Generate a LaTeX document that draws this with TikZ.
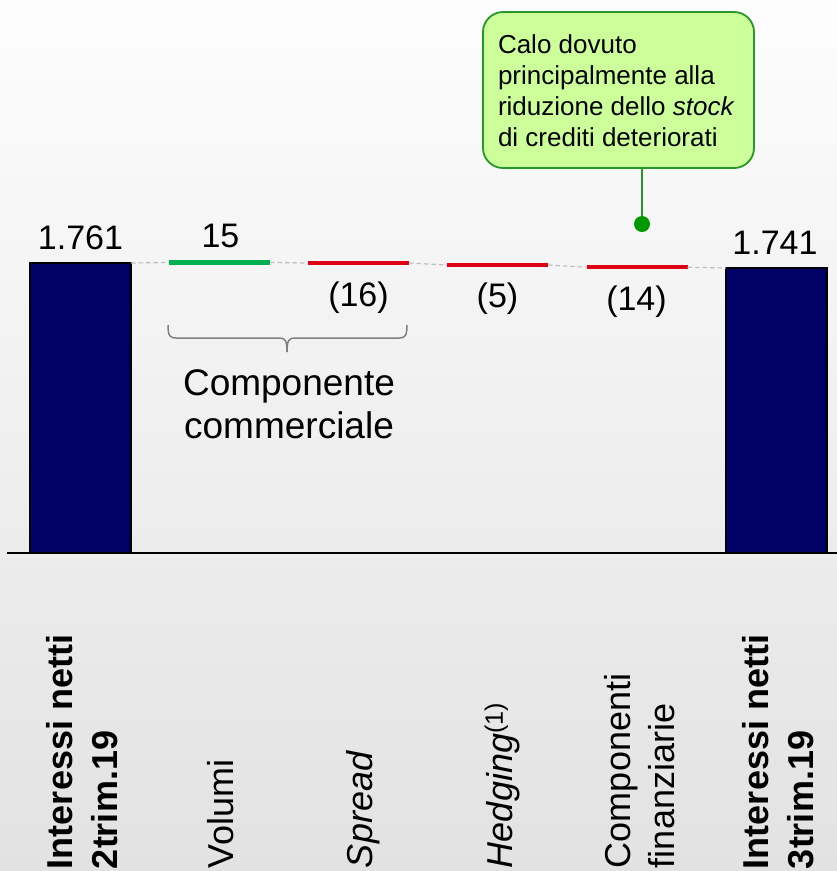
\documentclass[tikz,border=0pt]{standalone}
\usepackage{fontspec}
\setmainfont{Liberation Sans}
\definecolor{navy}{RGB}{0,0,102}
\definecolor{bgTop}{RGB}{253,253,253}
\definecolor{bgBot}{RGB}{226,226,226}
\definecolor{segGreen}{RGB}{0,176,80}
\definecolor{segRed}{RGB}{224,0,20}
\definecolor{dashgray}{RGB}{190,190,190}
\definecolor{calloutFill}{RGB}{204,255,153}
\definecolor{calloutBorder}{RGB}{40,150,40}
\definecolor{dotGreen}{RGB}{0,153,0}
\definecolor{braceGray}{RGB}{128,128,128}
\begin{document}
\begin{tikzpicture}[x=1pt,y=-1pt,
  every node/.style={inner sep=0pt, outer sep=0pt},
  bar/.style={draw=black, line width=1.5pt, fill=navy, minimum width=101pt, anchor=south west},
  seg/.style={minimum width=101pt, minimum height=4.5pt},
  link/.style={draw=dashgray, line width=1.2pt, dash pattern=on 4.5pt off 3pt},
  val/.style={font=\fontsize{34}{40}\selectfont, anchor=base},
  cat/.style={rotate=90, anchor=base west, font=\fontsize{36}{44.5}\selectfont},
  catb/.style={rotate=90, anchor=base west, font=\fontsize{36}{45}\selectfont\bfseries},
  bracestyle/.style={draw=braceGray, line width=1.5pt},
  callout/.style={draw=calloutBorder, line width=1.8pt, fill=calloutFill, rounded corners=20pt}
]
\useasboundingbox (0,0) rectangle (837,871);
\shade[top color=bgTop, bottom color=bgBot] (0,0) rectangle (837,871);

% bars
\node[bar, minimum height=290pt] (b1) at (30,553) {};
\node[bar, minimum height=285pt] (b2) at (726,553) {};

% axis
\coordinate (ax1) at (7,553);
\coordinate (ax2) at (837,553);
\draw[line width=2pt] (ax1) -- (ax2);

% floating segments
\node[seg, fill=segGreen] (vol) at (219.5,262.5) {};
\node[seg, fill=segRed] (spr) at (358.5,263) {};
\node[seg, fill=segRed] (hed) at (497.5,265) {};
\node[seg, fill=segRed] (cfin) at (637,267.2) {};

% dashed links
\draw[link] (b1.north east) -- (vol.west);
\draw[link] (vol.east) -- (spr.west);
\draw[link] (spr.east) -- (hed.west);
\draw[link] (hed.east) -- (cfin.west);
\draw[link] (cfin.east) -- (b2.north west);

% values
\node[val] (v1) at (80.5,249) {1.761};
\node[val] (v2) at (220.5,247) {15};
\node[val] (v3) at (358.5,306) {(16)};
\node[val] (v4) at (497.5,307) {(5)};
\node[val] (v5) at (636.5,310) {(14)};
\node[val] (v6) at (775,254) {1.741};

% brace
\coordinate (brL) at (168,325);
\coordinate (brR) at (407,325);
\coordinate (brM) at (287,352);
\draw[bracestyle] (brL) .. controls (168,336) and (170,338) .. (176,338) -- (279,338) .. controls (285,338) and (287,340) .. (brM);
\draw[bracestyle] (brR) .. controls (407,336) and (405,338) .. (399,338) -- (295,338) .. controls (289,338) and (287,340) .. (brM);
\node[anchor=base, font=\fontsize{37}{43}\selectfont] (comm) at (289,395)
  {\vtop{\halign{\hfil#\hfil\cr Componente\cr commerciale\cr}}};

% callout
\node[callout, minimum width=271pt, minimum height=156pt] (cb) at (618.5,90) {};
\node[anchor=base west, font=\fontsize{26}{31.3}\selectfont] (ct) at (498,53)
  {\vtop{\hbox{Calo dovuto}\hbox{principalmente alla}\hbox{riduzione dello \textit{stock}}\hbox{di crediti deteriorati}}};
\node[circle, fill=dotGreen, minimum size=16pt] (dot) at (642,224) {};
\draw[draw=calloutBorder, line width=2pt] (dot.north) -- (dot.north |- cb.south);

% category labels
\node[catb] (l1) at (72,869) {\vtop{\hbox{Interessi netti}\hbox{2trim.19}}};
\node[cat] (l2) at (233,868) {Volumi};
\node[cat] (l3) at (372,868) {\itshape Spread};
\node[cat] (l4) at (512,868) {\itshape Hedging\upshape\textsuperscript{(1)}};
\node[cat] (l5) at (630,868) {\vtop{\hbox{Componenti}\hbox{finanziarie}}};
\node[catb] (l6) at (768,869) {\vtop{\hbox{Interessi netti}\hbox{3trim.19}}};
\end{tikzpicture}
\end{document}
